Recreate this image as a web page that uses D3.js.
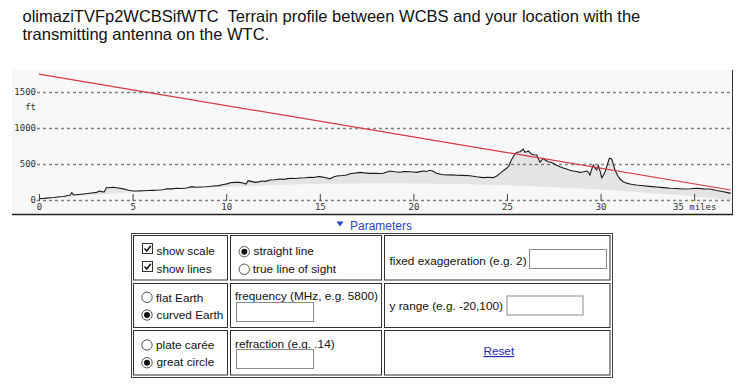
<!DOCTYPE html>
<html><head><meta charset="utf-8">
<script src="https://cdn.jsdelivr.net/npm/d3@7"></script>
<style>body{margin:0;background:#fff}svg{display:block}</style>
</head><body>
<svg id="c" width="742" height="387"></svg>
<script>
// ---- data ----
const profileMiles = [0,0.2,0.4,0.59,0.8,1.0,1.12,1.3,1.5,1.65,1.75,1.85,2.1,2.37,2.6,2.8,3.08,3.22,3.35,3.49,3.6,3.8,3.97,4.15,4.33,4.5,4.68,4.85,5.04,5.3,5.57,5.85,6.1,6.4,6.64,6.82,7.1,7.35,7.6,7.89,8.16,8.4,8.6,8.9,9.1,9.31,9.6,9.85,10.05,10.2,10.45,10.7,10.9,11.05,11.18,11.27,11.54,11.75,11.9,12.1,12.34,12.6,12.87,13.1,13.41,13.7,13.94,14.2,14.48,14.7,14.83,15.0,15.28,15.54,15.7,15.9,16.2,16.44,16.61,16.8,16.97,17.15,17.4,17.68,18.0,18.2,18.39,18.6,18.75,19.0,19.28,19.5,19.82,20.0,20.18,20.35,20.53,20.7,20.89,21.05,21.24,21.5,21.78,22.0,22.31,22.6,23.02,23.38,23.73,24.0,24.27,24.45,24.63,24.8,24.98,25.1,25.25,25.43,25.55,25.7,25.87,25.96,26.05,26.14,26.32,26.45,26.59,26.76,26.94,27.05,27.21,27.35,27.47,27.65,27.83,28.0,28.19,28.35,28.54,28.7,28.9,29.05,29.26,29.35,29.43,29.52,29.61,29.7,29.79,29.88,29.97,30.06,30.15,30.24,30.35,30.47,30.59,30.68,30.77,30.9,31.04,31.21,31.4,31.57,31.9,32.28,32.6,33.0,33.35,33.71,34.05,34.42,34.8,35.13,35.5,35.84,36.2,36.56,36.8,36.95];
const profileFt = [15,16,22,28,30,38,42,45,55,62,97,66,72,80,86,92,102,120,112,107,167,170,172,165,158,150,139,128,121,122,125,127,130,134,139,153,150,158,155,162,181,172,176,180,184,190,196,210,220,236,240,241,232,218,264,258,241,248,260,255,273,278,287,283,297,295,301,305,311,309,318,320,308,290,312,329,336,343,360,368,372,380,372,366,368,364,368,385,398,388,382,392,389,385,380,390,398,392,408,395,366,350,343,345,340,338,333,318,306,312,306,330,366,403,436,470,560,640,660,667,704,658,665,676,630,625,621,519,575,548,528,520,505,480,458,440,426,410,398,392,380,385,398,380,343,420,482,440,412,472,400,306,340,389,480,575,565,490,412,340,287,250,230,218,205,194,185,176,168,158,155,148,152,158,150,148,128,111,98,88];
const pathLengthMiles = 36.95;
const antennaMiles = [0, 36.95];
const antennaFt = [1743, 135];
const xTicks = [0,5,10,15,20,25,30,35];
const xTickLabels = ["0","5","10","15","20","25","30","35 miles"];
const yTicks = [0,500,1000,1500];
const yTickLabels = ["0","500","1000","1500"];

const svg = d3.select("#c");
const MONO = "'DejaVu Sans Mono', monospace";
const SANS = "'Liberation Sans', Arial, sans-serif";

// ---- title ----
const title = [
  {t:"olimaziTVFp2WCBSifWTC  Terrain profile between WCBS and your location with the", y:21.5},
  {t:"transmitting antenna on the WTC.", y:40}
];
svg.selectAll("text.title").data(title).join("text")
  .attr("class","title").attr("x",22.5).attr("y",d=>d.y)
  .style("white-space","pre").attr("font-family",SANS).attr("font-size",16.5).attr("fill","#111")
  .text(d=>d.t);

// ---- chart ----
const x = d3.scaleLinear().domain([0, pathLengthMiles]).range([39, 39 + pathLengthMiles*18.72]);
const y = d3.scaleLinear().domain([0, 1500]).range([199.7, 91.7]);
const bulge = m => m*(pathLengthMiles-m)/1.5; // earth curvature (k=1), feet

svg.append("rect").attr("x",12).attr("y",70).attr("width",720).attr("height",144).attr("fill","#f8f8f8");

const prof = profileMiles.map((m,i)=>({m, ft:profileFt[i]}));
svg.append("path").datum(prof)
  .attr("d", d3.area().x(d=>x(d.m)).y0(d=>y(bulge(d.m))).y1(d=>y(d.ft)))
  .attr("fill","#e4e4e4");

// gridlines
svg.selectAll("line.grid").data(yTicks).join("line").attr("class","grid")
  .attr("x1",37).attr("x2",731).attr("y1",d=>Math.round(y(d))+0.5).attr("y2",d=>Math.round(y(d))+0.5)
  .attr("stroke","#808080").attr("stroke-width",1.6).attr("stroke-dasharray","3,3");

// terrain line
svg.append("path").datum(prof)
  .attr("d", d3.line().x(d=>x(d.m)).y(d=>y(d.ft)))
  .attr("fill","none").attr("stroke","#1a1a1a").attr("stroke-width",1.1);

// straight line
svg.append("path").datum(antennaMiles.map((m,i)=>({m, ft:antennaFt[i]})))
  .attr("d", d3.line().x(d=>x(d.m)).y(d=>y(d.ft)))
  .attr("fill","none").attr("stroke","#d63a40").attr("stroke-width",1.2);

// axes
const xa = svg.append("g").attr("transform","translate(0,194)")
  .call(d3.axisBottom(x).tickValues(xTicks).tickFormat((d,i)=>xTickLabels[i]).tickSize(7).tickPadding(2.3));
xa.select(".domain").remove();
xa.selectAll("line").attr("stroke","#444");
xa.selectAll("text").attr("font-family",MONO).attr("font-size",9).attr("fill","#333");

const ya = svg.append("g").attr("transform","translate(36,0)")
  .call(d3.axisLeft(y).tickValues(yTicks).tickFormat((d,i)=>yTickLabels[i]).tickSize(0).tickPadding(0));
ya.select(".domain").remove();
ya.selectAll("text").attr("font-family",MONO).attr("font-size",9).attr("fill","#333");
svg.append("text").attr("x",36).attr("y",109.5).attr("text-anchor","end")
  .attr("font-family",MONO).attr("font-size",9).attr("fill","#333").text("ft");

// panel borders
svg.append("line").attr("x1",12).attr("x2",733).attr("y1",214.5).attr("y2",214.5).attr("stroke","#222").attr("stroke-width",1.3);
svg.append("line").attr("x1",732.5).attr("x2",732.5).attr("y1",70).attr("y2",214.5).attr("stroke","#333").attr("stroke-width",1);

// ---- parameters ----
svg.append("path").attr("d","M336.5,221.5 L343.5,221.5 L340,226.5 Z").attr("fill","#2c44c0");
svg.append("text").attr("x",350).attr("y",230).attr("font-family",SANS).attr("font-size",12).attr("fill","#2c44c0").text("Parameters");

svg.append("rect").attr("x",131.5).attr("y",233.5).attr("width",481).attr("height",144).attr("fill","none").attr("stroke","#444");
const colX = [[133.5,227.5],[230.5,381.5],[384.5,610]];
const rowY = [[235.5,280],[283.5,327.5],[330.5,375]];
const cells = [];
rowY.forEach(r=>colX.forEach(c=>cells.push({x:c[0],y:r[0],w:c[1]-c[0],h:r[1]-r[0]})));
svg.selectAll("rect.cell").data(cells).join("rect").attr("class","cell")
  .attr("x",d=>d.x).attr("y",d=>d.y).attr("width",d=>d.w).attr("height",d=>d.h)
  .attr("fill","none").attr("stroke","#333");

const FS = 11.8;
const checks = [
  {x:142.5,y:243.5,label:"show scale",ty:255},
  {x:142.5,y:261.5,label:"show lines",ty:272.5}
];
checks.forEach(c=>{
  svg.append("rect").attr("x",c.x).attr("y",c.y).attr("width",10).attr("height",10).attr("fill","#fff").attr("stroke","#333");
  svg.append("path").attr("d",`M${c.x+2},${c.y+5} L${c.x+4.2},${c.y+7.5} L${c.x+8.3},${c.y+2.2}`)
    .attr("fill","none").attr("stroke","#111").attr("stroke-width",1.5);
  svg.append("text").attr("x",156.5).attr("y",c.ty).attr("font-family",SANS).attr("font-size",FS).attr("fill","#111").text(c.label);
});
const radios = [
  {cx:244.3,cy:251.7,on:true,label:"straight line",tx:253.5,ty:254.5},
  {cx:244.3,cy:269.3,on:false,label:"true line of sight",tx:252.8,ty:272.5},
  {cx:147,cy:297.3,on:false,label:"flat Earth",tx:156,ty:301.7},
  {cx:147,cy:315,on:true,label:"curved Earth",tx:156.5,ty:319.3},
  {cx:147,cy:345,on:false,label:"plate carée",tx:156,ty:348.5},
  {cx:147,cy:362.7,on:true,label:"great circle",tx:156.5,ty:366.2}
];
radios.forEach(r=>{
  svg.append("circle").attr("cx",r.cx).attr("cy",r.cy).attr("r",5.2).attr("fill","#fff").attr("stroke","#555");
  if(r.on) svg.append("circle").attr("cx",r.cx).attr("cy",r.cy).attr("r",3).attr("fill","#111");
  svg.append("text").attr("x",r.tx).attr("y",r.ty).attr("font-family",SANS).attr("font-size",FS).attr("fill","#111").text(r.label);
});
const labels = [
  {x:389.5,y:265,t:"fixed exaggeration (e.g. 2)"},
  {x:235,y:299.5,t:"frequency (MHz, e.g. 5800)"},
  {x:389.5,y:310,t:"y range (e.g. -20,100)"},
  {x:235,y:347.5,t:"refraction (e.g. .14)"}
];
svg.selectAll("text.lbl").data(labels).join("text").attr("class","lbl")
  .attr("x",d=>d.x).attr("y",d=>d.y).attr("font-family",SANS).attr("font-size",FS).attr("fill","#111").text(d=>d.t);
const inputs = [
  {x:529.5,y:249.5,w:77,h:19},
  {x:236.5,y:302.5,w:77,h:19},
  {x:507,y:296,w:76,h:19},
  {x:236.5,y:349.5,w:77,h:19}
];
svg.selectAll("rect.inp").data(inputs).join("rect").attr("class","inp")
  .attr("x",d=>d.x).attr("y",d=>d.y).attr("width",d=>d.w).attr("height",d=>d.h)
  .attr("fill","#fff").attr("stroke","#8a8a8a");
svg.append("text").attr("x",498.8).attr("y",355).attr("text-anchor","middle").attr("font-family",SANS)
  .attr("font-size",FS).attr("fill","#2a2ab0").attr("text-decoration","underline").text("Reset");
</script>
</body></html>
